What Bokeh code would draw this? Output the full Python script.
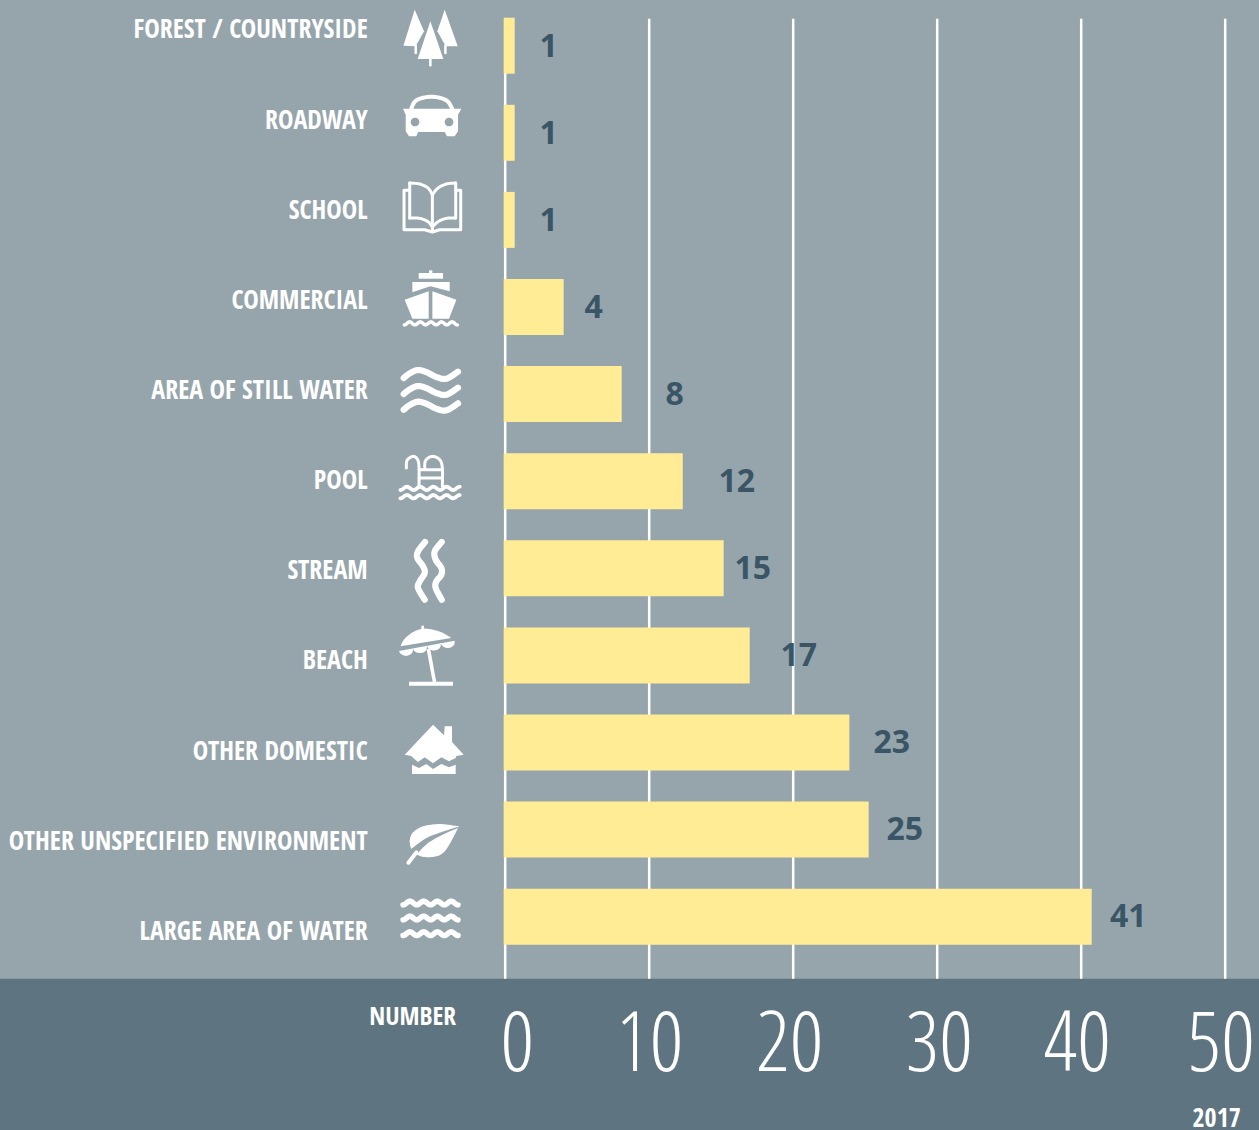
import numpy as np
from bokeh.plotting import figure
from bokeh.embed import file_html
from bokeh.resources import INLINE
from bokeh.models import Range1d, LinearAxis, FixedTicker
from bokeh.core.properties import value

# ---------- data ----------
categories = ["FOREST / COUNTRYSIDE", "ROADWAY", "SCHOOL", "COMMERCIAL", "AREA OF STILL WATER", "POOL",
              "STREAM", "BEACH", "OTHER DOMESTIC", "OTHER UNSPECIFIED ENVIRONMENT", "LARGE AREA OF WATER"]
value_labels = ["1", "1", "1", "4", "8", "12", "15", "17", "23", "25", "41"]
bar_lengths = [0.66, 0.66, 0.66, 4.06, 8.09, 12.33, 15.17, 16.98, 23.9, 25.24, 40.73]
grid_values = [0, 10, 20, 30, 40, 50]
tick_labels = ["0", "10", "20", "30", "40", "50"]

# ---------- layout (page pixels) ----------
W, H, BAND_TOP = 1259, 1130, 979
X0, PX_PER_UNIT = 505.5, 14.4
ROW0, ROW_STEP = 46.0, 87.1
label_px_y = [28.5, 119, 209, 299, 389.5, 479.5, 569.5, 659.5, 750, 840, 930.5]
value_px_x = [549, 549, 549, 594, 675, 737, 753, 799, 892, 905, 1128.5]
value_px_y = [45.3, 132.3, 219.3, 306.3, 393.3, 480.3, 567.3, 654.3, 741.3, 828.3, 915.3]
tick_px_x = [517.5, 650, 790, 939.5, 1077.5, 1221.5]

BG, BAND, BAR, INK = "#96a5ac", "#5e7480", "#ffec94", "#3a5666"

def cx(px): return (np.asarray(px, dtype=float) - X0) / PX_PER_UNIT
def ry(py): return (np.asarray(py, dtype=float) - ROW0) / ROW_STEP

p = figure(width=W + 1, height=H + 1, output_backend="svg", toolbar_location=None,
           x_range=Range1d(float(cx(-0.2)), float(cx(W + 0.8))), y_range=Range1d(float(ry(H + 0.8)), float(ry(-0.2))),
           min_border_left=0, min_border_right=0, min_border_top=0, min_border_bottom=0,
           background_fill_color=BG, border_fill_color=BG, outline_line_color=None,
           x_axis_location=None, y_axis_location=None)
p.styles = {"position": "absolute", "left": "-1px", "top": "-1px"}
p.grid.visible = False

# dark band at the foot of the chart
p.quad(left=float(cx(-2)), right=float(cx(W + 2)), top=float(ry(BAND_TOP)), bottom=float(ry(H + 2)),
       fill_color=BAND, line_color=None)

# vertical grid
p.segment(x0=grid_values, x1=grid_values, y0=[float(ry(19))] * 6, y1=[float(ry(BAND_TOP))] * 6,
          line_color="white", line_width=2.5)

# bars
rows = list(range(len(categories)))
p.hbar(y=rows, left=float(cx(504)), right=bar_lengths, height=56 / ROW_STEP, fill_color=BAR, line_color=None)

# value labels
p.text(x=cx(value_px_x).tolist(), y=ry(value_px_y).tolist(), text=value_labels, text_color=INK,
       text_font=value("Open Sans"), text_font_style="bold", text_font_size="32px",
       text_align="center", text_baseline="middle")

# category labels
p.text(x=[float(cx(368))] * 11, y=ry(label_px_y).tolist(), text=categories, text_color="white",
       text_font=value("Open Sans Condensed"), text_font_style="bold", text_font_size="26px",
       text_align="right", text_baseline="middle")

# axis labels in band
tick_pos = [float(v) for v in cx(tick_px_x)]
axis = LinearAxis(ticker=FixedTicker(ticks=tick_pos), fixed_location=float(ry(BAND_TOP)),
                  major_label_overrides=dict(zip(tick_pos, tick_labels)),
                  major_label_text_font="Open Sans Condensed Light", major_label_text_font_size="84px",
                  major_label_text_color="white", major_label_standoff=26,
                  major_tick_line_color=None, minor_tick_line_color=None, axis_line_color=None)
p.add_layout(axis, "below")

p.text(x=[float(cx(369.5))], y=[float(ry(1015))], text=["NUMBER"], text_color="white",
       text_font=value("Open Sans Condensed"), text_font_style="bold", text_font_size="25.5px",
       text_align="left", text_baseline="middle")
p.text(x=[float(cx(1241))], y=[float(ry(1118))], text=["2017"], text_color="white",
       text_font=value("Open Sans Condensed"), text_font_style="bold", text_font_size="26px",
       text_align="right", text_baseline="middle")

# ---------- icons (white pictograms, traced from page-pixel positions) ----------
def smooth(pts, n=10):
    pts = np.asarray(pts, dtype=float)
    q = np.vstack([pts[0], pts, pts[-1]])
    out = []
    for i in range(1, len(q) - 2):
        p0, p1, p2, p3 = q[i - 1], q[i], q[i + 1], q[i + 2]
        for t in np.linspace(0, 1, n, endpoint=False):
            out.append(0.5 * (2 * p1 + (p2 - p0) * t + (2 * p0 - 5 * p1 + 4 * p2 - p3) * t ** 2 + (3 * p1 - p0 - 3 * p2 + p3) * t ** 3))
    out.append(pts[-1])
    return np.array(out)

def fill(pts, ox, oy, color="white"):
    a = np.asarray(pts, dtype=float)
    p.patch((cx(ox + a[:, 0] / 3)).tolist(), (ry(oy + a[:, 1] / 3)).tolist(), fill_color=color, line_color=None)

def stroke(pts, ox, oy, width, curve=False, cap="round"):
    a = smooth(pts) if curve else np.asarray(pts, dtype=float)
    p.line((cx(ox + a[:, 0] / 3)).tolist(), (ry(oy + a[:, 1] / 3)).tolist(), line_color="white",
           line_width=width, line_cap=cap, line_join="round")

def wave(x0, x1, y, humps, amp):
    xs = np.linspace(x0, x1, 120)
    return np.column_stack([xs, y - amp * np.cos((xs - x0) / (x1 - x0) * humps * 2 * np.pi - np.pi)])

def circle(cxz, cyz, r):
    t = np.linspace(0, 2 * np.pi, 32)
    return np.column_stack([cxz + r * np.cos(t), cyz + r * np.sin(t)])

# trees
ox, oy = 390, 0
fill([(75, 30), (103, 95), (78, 140), (41, 138)], ox, oy)
fill([(165, 30), (204, 140), (168, 140), (143, 95)], ox, oy)
fill([(122, 65), (161, 178), (84, 178)], ox, oy)
stroke([(78, 138), (78, 160)], ox, oy, 2.5)
stroke([(167, 138), (167, 160)], ox, oy, 2.5)
stroke([(122, 175), (122, 197)], ox, oy, 2.5)

# car
fill([(40, 327), (215, 327), (205, 345), (205, 395), (195, 410), (172, 410), (165, 397), (85, 397), (80, 410),
      (58, 410), (48, 395), (48, 345)], ox, oy)
stroke([(64, 328), (80, 302), (125, 291), (170, 302), (188, 328)], ox, oy, 4, curve=True)
fill(circle(76, 367, 13), ox, oy, BG)
fill(circle(178, 367, 13), ox, oy, BG)

# book
stroke([(128, 585), (115, 565), (90, 553), (60, 550)], ox, oy, 3, curve=True)
stroke([(128, 585), (145, 565), (170, 553), (198, 550)], ox, oy, 3, curve=True)
stroke([(60, 550), (60, 655)], ox, oy, 3)
stroke([(198, 550), (198, 655)], ox, oy, 3)
stroke([(128, 585), (128, 692)], ox, oy, 3)
stroke([(60, 655), (90, 656), (115, 666), (128, 682)], ox, oy, 3, curve=True)
stroke([(198, 655), (170, 656), (145, 666), (128, 682)], ox, oy, 3, curve=True)
stroke([(60, 572), (43, 572), (43, 690), (105, 690), (128, 697), (150, 690), (213, 690), (213, 572), (198, 572)], ox, oy, 3)

# ship
ox, oy = 390, 260
fill([(87, 40), (160, 40), (160, 57), (87, 57)], ox, oy)
fill([(118, 32), (128, 32), (128, 40), (118, 40)], ox, oy)
fill([(68, 67), (180, 67), (180, 95), (122, 80), (68, 98)], ox, oy)
fill([(45, 120), (117, 95), (117, 177), (68, 177)], ox, oy)
fill([(128, 95), (200, 120), (178, 177), (128, 177)], ox, oy)
stroke(wave(44, 203, 191, 5, 4.5), ox, oy, 3.5)

# still water
for d in (0, 48, 95):
    stroke([(42, 355 + d), (60, 341 + d), (85, 331 + d), (112, 338 + d), (140, 352 + d), (170, 357 + d), (205, 336 + d)],
           ox, oy, 6.2, curve=True)

# pool
stroke([(50, 625), (52, 602), (70, 590), (84, 600), (88, 625), (88, 680)], ox, oy, 3, curve=True)
stroke([(105, 625), (108, 602), (128, 590), (150, 600), (158, 625), (158, 680)], ox, oy, 3, curve=True)
stroke([(88, 630), (158, 630)], ox, oy, 3)
stroke([(88, 655), (158, 655)], ox, oy, 3)
stroke(wave(32, 210, 686, 4.5, 5), ox, oy, 3.8)
stroke(wave(32, 210, 711, 4.5, 5), ox, oy, 3.8)

# stream
ox, oy = 390, 530
stroke([(106, 37), (85, 65), (83, 85), (100, 110), (105, 130), (90, 155), (85, 175), (105, 210)], ox, oy, 6.2, curve=True)
stroke([(156, 37), (135, 65), (138, 90), (155, 115), (155, 135), (140, 155), (138, 175), (156, 210)], ox, oy, 6.2, curve=True)

# beach umbrella
fill([(95, 288), (103, 288), (103, 298), (95, 298)], ox, oy)
fill(np.vstack([[(32, 350)], smooth([(32, 350), (45, 327), (72, 306), (100, 297), (130, 300), (160, 310), (185, 325)]), [(185, 325)]]), ox, oy)
scallop = [(28, 364), (195, 333)]
for i in range(4, 0, -1):
    x1, x2 = 28 + (i - 1) * 41.75, 28 + i * 41.75
    y1, y2 = 366 - (x1 - 28) * 0.186, 366 - (x2 - 28) * 0.186
    mx, my = (x1 + x2) / 2, (y1 + y2) / 2
    t = np.linspace(0, np.pi, 10)
    arc = np.column_stack([mx + 20.8 * np.cos(t), my + 16 * np.sin(t) + 0 * t])
    scallop += arc.tolist()
fill(scallop, ox, oy)
stroke([(116, 358), (135, 460)], ox, oy, 3.6, cap="butt")
fill([(58, 456), (190, 456), (190, 468), (58, 468)], ox, oy)

# house
ox, oy = 390, 715
fill([(45, 120), (130, 30), (163, 62), (165, 35), (187, 35), (187, 82), (222, 120), (200, 124), (198, 130), (178, 140),
      (155, 128), (130, 146), (105, 128), (85, 142), (68, 128), (65, 124)], ox, oy)
fill([(67, 150), (88, 160), (110, 148), (130, 163), (155, 148), (178, 158), (198, 150), (198, 178), (67, 178)], ox, oy)

# leaf
ox, oy = 390, 800
fill(np.vstack([smooth([(64, 148), (60, 122), (70, 98), (100, 80), (150, 73), (210, 80)]), smooth([(210, 80), (165, 94), (110, 115), (64, 148)])]), ox, oy)
fill(np.vstack([smooth([(80, 165), (115, 130), (165, 102), (205, 85)]), smooth([(205, 85), (187, 120), (165, 155), (140, 170), (105, 172), (80, 165)])]), ox, oy)
stroke([(56, 189), (80, 158)], ox, oy, 4)

# open water
for y in (310, 355, 402):
    stroke(wave(40, 205, y, 4, 5.5), ox, oy, 5.5)

open("out.html", "w").write(file_html(p, INLINE))
